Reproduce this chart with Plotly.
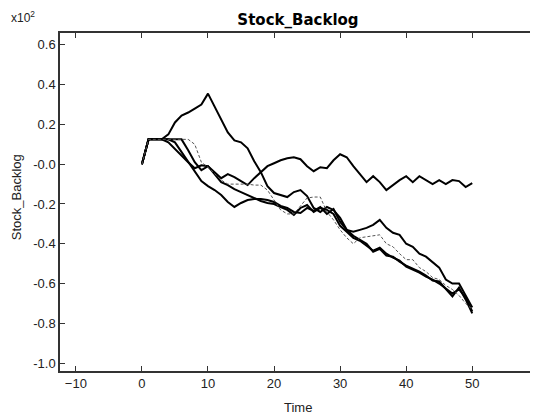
import plotly.graph_objects as go

time = list(range(51))

run_a = [0, 12.5, 12.5, 12.5, 15, 21, 24.5, 26, 28, 30, 35.5, 29, 22.5, 16, 12, 11, 8, 1.5, -4, -11,
         -14.5, -15.5, -16.5, -14, -13, -16, -22, -24, -21.5, -23, -27, -33, -34, -33, -32, -30.5, -28, -32,
         -34.5, -35.5, -40, -41.5, -45, -46.5, -49.5, -52, -58, -60, -60, -66, -72]
run_b = [0, 12.5, 12.5, 12.5, 11, 7.5, 4, 1, -2, -0.5, -1, -4, -7, -5, -6.5, -8.5, -10.5, -7, -4, -1,
         0.5, 2, 3, 3.5, 2.5, -1, -3.5, -1.5, -2, 2, 5, 3.5, -1, -5, -9, -6, -9, -13, -10.5, -8,
         -6, -9, -6, -8, -10, -8, -10, -8, -8.5, -11.5, -9.5]
run_c = [0, 12.5, 12.5, 12.5, 12.5, 11, 6, 1, -4, -8.5, -11, -13, -15.5, -19, -21.5, -19.5, -18, -17.5, -17.5, -18,
         -19, -21, -22, -24, -24.5, -22, -23.5, -21.5, -25, -22.5, -29, -33, -36, -38, -40, -44, -42.5, -46,
         -46.5, -49, -51, -52.5, -54, -56, -58.5, -59, -63, -66.5, -62, -68, -75]
run_d = [0, 12.5, 12.5, 12.5, 12.5, 12.5, 12.5, 7, 1, -3, -1, -5, -9, -10.5, -12.5, -14, -15.5, -17, -18.5, -19.5,
         -20, -21.5, -23, -25.5, -22, -20.5, -24, -22, -23, -25, -31, -34, -37, -38.5, -41, -43.5, -42, -45,
         -47, -48.5, -51.5, -53, -54.5, -56.5, -58, -60, -62.5, -65, -63, -67, -74]
run_e = [0, 12.5, 12.5, 12.5, 12.5, 12.5, 12.5, 12.5, 10, 1, -1.5, -5, -8, -10, -10, -10, -10, -10.5, -10.5, -13,
         -18, -23, -25, -25, -21, -17, -16.5, -16.5, -24, -28, -33, -37, -40, -37, -36.5, -36, -35.5, -40,
         -41.5, -45, -48, -48, -52, -54, -57, -58, -61, -63, -66, -70, -73]

x_ticks = [-10, 0, 10, 20, 30, 40, 50]
y_tickvals = [60, 40, 20, 0, -20, -40, -60, -80, -100]
y_ticktext = ["0.6", "0.4", "0.2", "-0.0", "-0.2", "-0.4", "-0.6", "-0.8", "-1.0"]

fig = go.Figure()
thick = dict(color="black", width=2)
for name, vals in [("run_c", run_c), ("run_d", run_d), ("run_a", run_a), ("run_b", run_b)]:
    fig.add_trace(go.Scatter(x=time, y=vals, mode="lines", line=thick, name=name, showlegend=False))
fig.add_trace(go.Scatter(x=time, y=run_e, mode="lines",
                         line=dict(color="#555555", width=1, dash="3px,2px"),
                         name="run_e", showlegend=False))

# page body adds an 8px offset; figure is sized to the remaining viewport
W, H = 530, 409
axis_font = dict(family="Liberation Sans, Arial, sans-serif", size=13, color="#222222")
fig.update_layout(
    width=W, height=H,
    margin=dict(l=52, r=0, t=25, b=46),
    paper_bgcolor="white", plot_bgcolor="white",
    title=dict(text="<b>Stock_Backlog</b>", x=0.5, xref="paper", xanchor="center",
               y=1 - 12 / H, yref="container", yanchor="middle",
               font=dict(family="DejaVu Sans, sans-serif", size=15, color="black")),
    xaxis=dict(range=[-12.4, 59.65], tickvals=x_ticks, ticks="inside", ticklen=5,
               tickcolor="#333333", showline=True, linecolor="#333333", linewidth=1.5,
               mirror="ticks", showgrid=False, zeroline=False, tickfont=axis_font),
    yaxis=dict(range=[-104, 66], tickvals=y_tickvals, ticktext=y_ticktext, ticks="inside",
               ticklen=5, tickcolor="#333333", showline=True, linecolor="#333333", linewidth=1.5,
               mirror="ticks", showgrid=False, zeroline=False, tickfont=axis_font),
    annotations=[
        dict(text="Time", xref="paper", yref="paper", x=0.5, y=(371 - 407) / 338,
             showarrow=False, xanchor="center", yanchor="middle", font=axis_font),
        dict(text="Stock_Backlog", xref="paper", yref="paper", x=(16 - 60) / 478, y=(371 - 197) / 338,
             showarrow=False, textangle=-90, xanchor="center", yanchor="middle", font=axis_font),
        dict(text="x10<sup>2</sup>", xref="paper", yref="paper", x=(9 - 60) / 478, y=(371 - 17) / 338,
             showarrow=False, xanchor="left", yanchor="middle",
             font=dict(family="Liberation Sans, Arial, sans-serif", size=12, color="#222222")),
    ],
)

fig.write_html("out.html")
